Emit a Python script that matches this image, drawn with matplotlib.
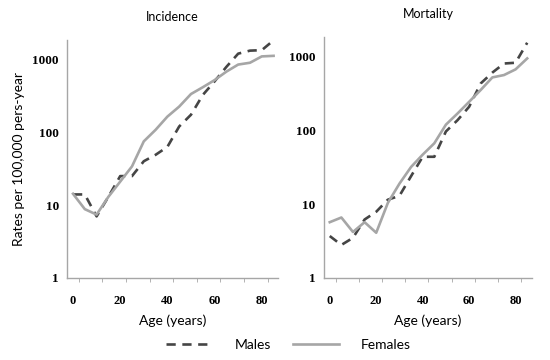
import matplotlib
matplotlib.use("Agg")
import matplotlib.pyplot as plt

# age groups (years) and rates per 100,000 person-years
ages = [0, 5, 10, 15, 20, 25, 30, 35, 40, 45, 50, 55, 60, 65, 70, 75, 80, 85]

inc_males = [14, 14, 7, 13, 25, 25, 40, 49, 63, 120, 174, 325, 500, 790, 1200, 1320, 1340, 1830]
inc_females = [14.3, 8.8, 7.4, 13, 21, 34, 75, 108, 164, 225, 335, 415, 520, 680, 850, 900, 1100, 1120]

mort_males = [3.7, 2.8, 3.5, 6.2, 7.9, 11.5, 13, 24, 44, 44, 97, 138, 210, 435, 610, 810, 830, 1550]
mort_females = [5.7, 6.6, 4.2, 5.7, 4.1, 10.4, 19, 32, 47, 67, 120, 170, 245, 355, 525, 565, 675, 950]

titles = ["Incidence", "Mortality"]
yticks = [1, 10, 100, 1000]
xticks = [0, 20, 40, 60, 80]

male_col = "#454545"
female_col = "#a6a6a6"
axis_col = "#a6a6a6"
sans = ["Lato", "DejaVu Sans"]
serif = ["Liberation Serif", "DejaVu Serif"]

fig = plt.figure(figsize=(5.5, 3.6), dpi=100)
ax1 = fig.add_axes([0.122, 0.228, 0.384, 0.661])
ax2 = fig.add_axes([0.589, 0.228, 0.378, 0.669])

for ax, males, females, title in [(ax1, inc_males, inc_females, titles[0]),
                                  (ax2, mort_males, mort_females, titles[1])]:
    ax.plot(ages, males, color=male_col, lw=1.9, ls=(0, (3.5, 2.5)), label="Males")
    ax.plot(ages, females, color=female_col, lw=1.9, label="Females")
    ax.set_yscale("log")
    ax.set_ylim(1, 1850)
    ax.set_xlim(-2.5, 87)
    ax.set_yticks(yticks)
    ax.set_yticklabels([str(v) for v in yticks], family=serif, fontsize=9.5, weight="bold")
    ax.minorticks_off()
    ax.set_xticks(xticks)
    ax.set_xticklabels([str(v) for v in xticks], family=serif, fontsize=9, weight="bold")
    ax.set_xticks([2.5 + 10 * i for i in range(9)], minor=True)
    ax.tick_params(axis="x", which="major", length=0, pad=12)
    ax.tick_params(axis="x", which="minor", length=3, color=axis_col, direction="out")
    ax.tick_params(axis="y", length=0, pad=6)
    for s in ["top", "right"]:
        ax.spines[s].set_visible(False)
    for s in ["left", "bottom"]:
        ax.spines[s].set_color(axis_col)
        ax.spines[s].set_linewidth(1)
    ax.set_xlabel("Age (years)", family=sans, fontsize=10, labelpad=6)
    ax.set_title(title, family=sans, fontsize=9, pad=14)

ax1.set_ylabel("Rates per 100,000 pers-year", family=sans, fontsize=10, labelpad=5)

fig.legend(handles=ax1.get_lines(), labels=["Males", "Females"], loc="lower center",
           bbox_to_anchor=(0.525, -0.01), ncol=2, frameon=False, handlelength=3.3,
           columnspacing=1.6, handletextpad=1.6, prop={"family": sans, "size": 10})

fig.savefig("out.png", dpi=100)
